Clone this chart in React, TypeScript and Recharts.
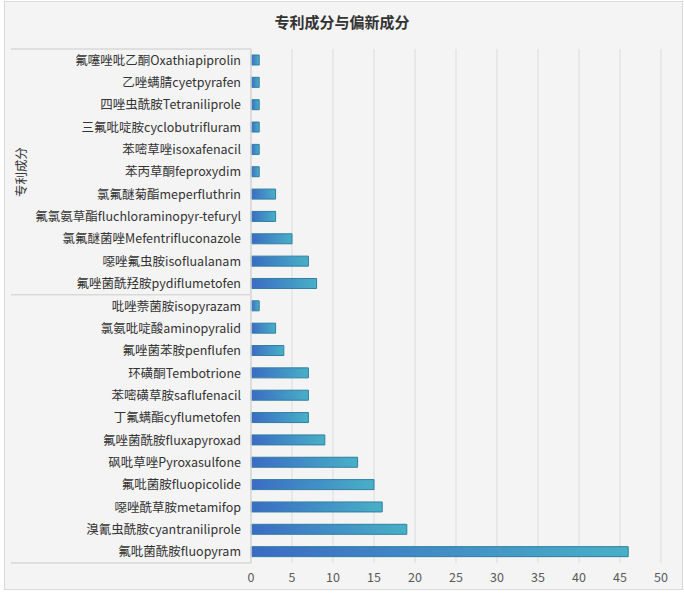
import { Bar, BarChart, CartesianGrid, XAxis, YAxis } from "recharts";

const compounds = [
  "氟噻唑吡乙酮Oxathiapiprolin",
  "乙唑螨腈cyetpyrafen",
  "四唑虫酰胺Tetraniliprole",
  "三氟吡啶胺cyclobutrifluram",
  "苯嘧草唑isoxafenacil",
  "苯丙草酮feproxydim",
  "氯氟醚菊酯meperfluthrin",
  "氟氯氨草酯fluchloraminopyr-tefuryl",
  "氯氟醚菌唑Mefentrifluconazole",
  "噁唑氟虫胺isoflualanam",
  "氟唑菌酰羟胺pydiflumetofen",
  "吡唑萘菌胺isopyrazam",
  "氯氨吡啶酸aminopyralid",
  "氟唑菌苯胺penflufen",
  "环磺酮Tembotrione",
  "苯嘧磺草胺saflufenacil",
  "丁氟螨酯cyflumetofen",
  "氟唑菌酰胺fluxapyroxad",
  "砜吡草唑Pyroxasulfone",
  "氟吡菌胺fluopicolide",
  "噁唑酰草胺metamifop",
  "溴氰虫酰胺cyantraniliprole",
  "氟吡菌酰胺fluopyram",
];

const counts = [1, 1, 1, 1, 1, 1, 3, 3, 5, 7, 8, 1, 3, 4, 7, 7, 7, 9, 13, 15, 16, 19, 46];

const xTicks = [0, 5, 10, 15, 20, 25, 30, 35, 40, 45, 50];

const groupLabel = "专利成分";
const groupEnd = 10; // last index of the 专利成分 group

const data = compounds.map((name, i) => ({ name, count: counts[i] }));

const W = 684;
const H = 595;
const TOP = 49;
const X_AXIS_H = 30;
const BOTTOM = 2;
const LEFT = 11;
const AXIS_W = 240;
const band = (H - TOP - BOTTOM - X_AXIS_H) / compounds.length;
const font = "'Noto Sans CJK SC', 'Noto Sans', sans-serif";

function CategoryTick(props: any) {
  const { x, y, payload, index } = props;
  const axisX = LEFT + AXIS_W;
  return (
    <g>
      <text
        x={x}
        y={y}
        dy={4.5}
        textAnchor="end"
        fontSize={12.5}
        fill="#333"
        fontFamily={font}
      >
        {payload.value}
      </text>
      {index === 0 && (
        <line x1={LEFT} x2={axisX} y1={y - band / 2} y2={y - band / 2} stroke="#d9d9d9" strokeWidth={1.5} />
      )}
      {(index === groupEnd || index === compounds.length - 1) && (
        <line x1={LEFT} x2={axisX} y1={y + band / 2} y2={y + band / 2} stroke="#d9d9d9" strokeWidth={1.5} />
      )}
      {index === 5 && (
        <text
          x={22}
          y={y}
          transform={`rotate(-90 22 ${y})`}
          textAnchor="middle"
          dy={4.5}
          fontSize={12.5}
          fill="#333"
          fontFamily={font}
        >
          {groupLabel}
        </text>
      )}
    </g>
  );
}

export default function App() {
  return (
    <div
      style={{
        position: "absolute",
        left: 0,
        top: 0,
        width: W,
        height: H,
        background: "#fff",
      }}
    >
      <div
        style={{
          position: "absolute",
          left: 4,
          top: 1,
          width: 677,
          height: 587,
          border: "1px solid #d9d9d9",
          background: "#f4f4f4",
        }}
      />
      <div
        style={{
          position: "absolute",
          top: 11,
          left: 0,
          width: W,
          textAlign: "center",
          fontFamily: font,
          fontWeight: 700,
          fontSize: 15,
          color: "#333",
        }}
      >
        专利成分与偏新成分
      </div>
      <div style={{ position: "absolute", left: 0, top: 0 }}>
        <BarChart
          width={W}
          height={H}
          data={data}
          layout="vertical"
          margin={{ top: TOP, bottom: BOTTOM, left: LEFT, right: 23 }}
        >
          <defs>
            <linearGradient id="barFill" x1="0" y1="0" x2="1" y2="0">
              <stop offset="0%" stopColor="#3b6bc4" />
              <stop offset="100%" stopColor="#48b0c7" />
            </linearGradient>
          </defs>
          <CartesianGrid horizontal={false} stroke="#e4e4e4" strokeWidth={1.5} />
          <XAxis
            type="number"
            domain={[0, 50]}
            ticks={xTicks}
            height={X_AXIS_H}
            axisLine={false}
            tickLine={false}
            tickSize={8}
            tick={{ fontSize: 12.5, fill: "#595959", fontFamily: font }}
          />
          <YAxis
            type="category"
            dataKey="name"
            width={AXIS_W}
            interval={0}
            axisLine={{ stroke: "#d9d9d9", strokeWidth: 1.5 }}
            tickLine={false}
            tickSize={8}
            tick={<CategoryTick />}
          />
          <Bar
            dataKey="count"
            barSize={10}
            fill="url(#barFill)"
            stroke="#2f7f9e"
            strokeWidth={1}
            isAnimationActive={false}
          />
        </BarChart>
      </div>
    </div>
  );
}
